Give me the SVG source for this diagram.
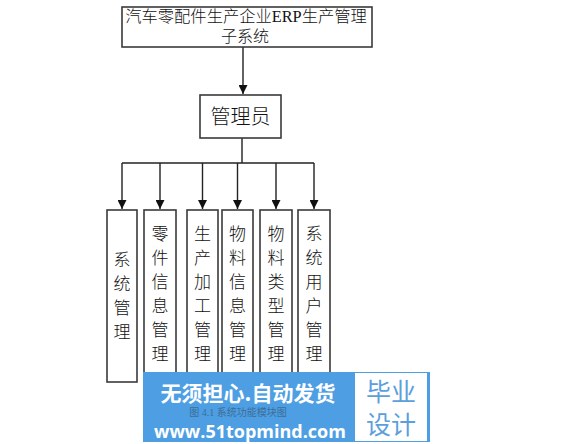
<svg xmlns="http://www.w3.org/2000/svg" width="574" height="444" viewBox="0 0 574 444">
<style>
.box{fill:#fff;stroke:#3a3a3a;stroke-width:1.6}
.ln{fill:none;stroke:#222;stroke-width:1.4}
.t{font-family:"Liberation Serif","Noto Sans CJK SC",serif;fill:#111;text-anchor:middle;font-weight:300}
.v{font-family:"Noto Sans CJK SC",sans-serif;font-size:17px;fill:#111;text-anchor:middle;font-weight:300}
</style>
<defs>
<marker id="ah" viewBox="0 0 10 10" refX="10" refY="5" markerWidth="9" markerHeight="9" markerUnits="userSpaceOnUse" orient="auto">
<path d="M0,0 L10,5 L0,10 Z" fill="#111"/>
</marker>
</defs>
<rect width="574" height="444" fill="#fff"/>
<g id="connectors">
<line class="ln" x1="243" y1="47" x2="243" y2="94" marker-end="url(#ah)"/>
<line class="ln" x1="242" y1="138" x2="242" y2="163"/>
<line class="ln" x1="122" y1="163" x2="314" y2="163"/>
<line class="ln" x1="122" y1="163" x2="122" y2="209" marker-end="url(#ah)"/>
<line class="ln" x1="160" y1="163" x2="160" y2="209" marker-end="url(#ah)"/>
<line class="ln" x1="202.5" y1="163" x2="202.5" y2="209" marker-end="url(#ah)"/>
<line class="ln" x1="237.5" y1="163" x2="237.5" y2="209" marker-end="url(#ah)"/>
<line class="ln" x1="276" y1="163" x2="276" y2="209" marker-end="url(#ah)"/>
<line class="ln" x1="314" y1="163" x2="314" y2="209" marker-end="url(#ah)"/>
</g>
<g id="root">
<rect class="box" x="122" y="7" width="250" height="40"/>
<text class="t" x="246" y="22" font-size="16.3">汽车零配件生产企业ERP生产管理</text>
<text class="t" x="245" y="42" font-size="16">子系统</text>
</g>
<g id="admin">
<rect class="box" x="200" y="95" width="81" height="43"/>
<text class="t" x="240.5" y="124" font-size="20">管理员</text>
</g>
<g id="n1">
<rect class="box" x="107" y="210" width="30" height="172"/>
<text class="v" x="122"><tspan x="122" y="266">系</tspan><tspan x="122" y="290">统</tspan><tspan x="122" y="314">管</tspan><tspan x="122" y="338">理</tspan></text>
</g>
<g id="n2">
<rect class="box" x="144" y="210" width="32" height="168"/>
<text class="v"><tspan x="160" y="240">零</tspan><tspan x="160" y="264">件</tspan><tspan x="160" y="288">信</tspan><tspan x="160" y="312">息</tspan><tspan x="160" y="336">管</tspan><tspan x="160" y="360">理</tspan></text>
</g>
<g id="n3">
<rect class="box" x="187" y="210" width="31" height="168"/>
<text class="v"><tspan x="202.5" y="240">生</tspan><tspan x="202.5" y="264">产</tspan><tspan x="202.5" y="288">加</tspan><tspan x="202.5" y="312">工</tspan><tspan x="202.5" y="336">管</tspan><tspan x="202.5" y="360">理</tspan></text>
</g>
<g id="n4">
<rect class="box" x="222" y="210" width="31" height="168"/>
<text class="v"><tspan x="237.5" y="240">物</tspan><tspan x="237.5" y="264">料</tspan><tspan x="237.5" y="288">信</tspan><tspan x="237.5" y="312">息</tspan><tspan x="237.5" y="336">管</tspan><tspan x="237.5" y="360">理</tspan></text>
</g>
<g id="n5">
<rect class="box" x="260" y="210" width="32" height="168"/>
<text class="v"><tspan x="276" y="240">物</tspan><tspan x="276" y="264">料</tspan><tspan x="276" y="288">类</tspan><tspan x="276" y="312">型</tspan><tspan x="276" y="336">管</tspan><tspan x="276" y="360">理</tspan></text>
</g>
<g id="n6">
<rect class="box" x="298" y="210" width="32" height="168"/>
<text class="v"><tspan x="314" y="240">系</tspan><tspan x="314" y="264">统</tspan><tspan x="314" y="288">用</tspan><tspan x="314" y="312">户</tspan><tspan x="314" y="336">管</tspan><tspan x="314" y="360">理</tspan></text>
</g>
<g id="watermark">
<rect x="143" y="372" width="287" height="70" fill="#4d9ee2"/>
<rect x="355" y="373" width="72" height="68" fill="#fff"/>
<text x="248" y="401" font-family="'Noto Sans CJK SC',sans-serif" font-size="21" font-weight="bold" fill="#fff" text-anchor="middle">无须担心.自动发货</text>
<text x="238" y="416" font-family="'Liberation Serif','Noto Sans CJK SC',serif" font-size="10" fill="#3d6e99" text-anchor="middle">图 4.1 系统功能模块图</text>
<text x="250" y="438" font-family="'Open Sans','Noto Sans',sans-serif" font-size="18" font-weight="bold" fill="#fff" text-anchor="middle">www.51topmind.com</text>
<text x="391" y="401" font-family="'Noto Sans CJK SC',sans-serif" font-size="25" fill="#5b9fdc" text-anchor="middle">毕业</text>
<text x="391" y="434" font-family="'Noto Sans CJK SC',sans-serif" font-size="25" fill="#5b9fdc" text-anchor="middle">设计</text>
</g>
</svg>
